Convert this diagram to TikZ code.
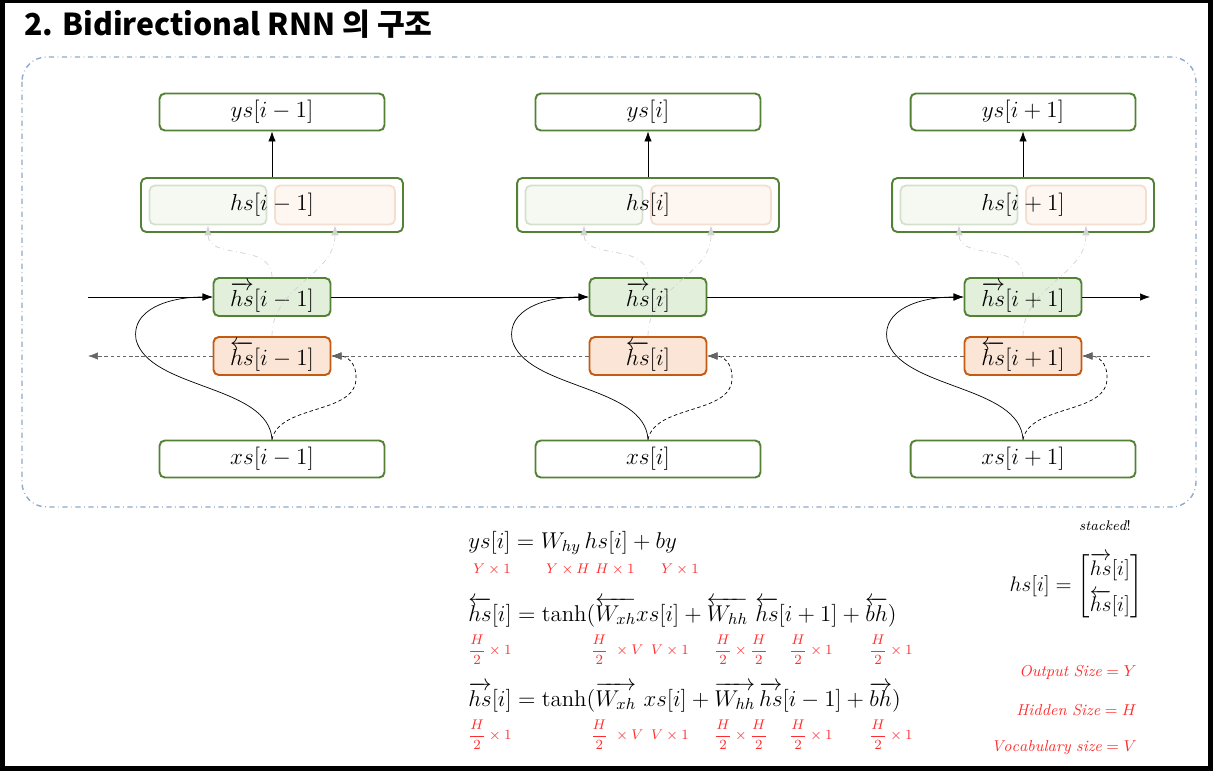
\RequirePackage{fix-cm}
\documentclass[tikz,border=0pt]{standalone}
\usepackage{amsmath}
\usepackage{fontspec}
\newfontfamily\krfont{Noto Sans CJK KR}
\usetikzlibrary{arrows.meta}

\definecolor{boxgreen}{HTML}{548235}
\definecolor{fwdfill}{HTML}{E2EFDA}
\definecolor{bwdfill}{HTML}{FBE5D6}
\definecolor{bwdline}{HTML}{C55A11}
\definecolor{frameblue}{HTML}{8EA9CB}
\definecolor{lblred}{HTML}{FF2E2E}

\begin{document}
\begin{tikzpicture}[x=0.02cm, y=-0.02cm, >={Latex[length=2mm,width=1.5mm]},
    box/.style={draw=boxgreen, line width=1.1pt, rounded corners=3pt, fill=white,
        minimum width=4.5cm, minimum height=0.74cm, inner sep=0pt, font=\fontsize{13.2}{15}\selectfont},
    hsbox/.style={box, fill=none, minimum width=5.24cm, minimum height=1.08cm},
    fwdbox/.style={box, fill=fwdfill, minimum width=2.34cm, minimum height=0.76cm},
    bwdbox/.style={fwdbox, draw=bwdline, fill=bwdfill},
    subL/.style={draw=boxgreen!25, fill=fwdfill!35, line width=1pt, rounded corners=3pt,
        minimum width=2.34cm, minimum height=0.78cm},
    subR/.style={subL, draw=bwdline!20, fill=bwdfill!35, minimum width=2.4cm},
    graylink/.style={gray!35, dash dot, thin},
    lbl/.style={text=lblred, font=\footnotesize, inner sep=0pt},
    eq/.style={anchor=west, inner sep=0pt, font=\fontsize{13}{15}\selectfont}
]

    \useasboundingbox (0,0) rectangle (1213,771);
    \draw[line width=0.1cm] (2.5,0.5) rectangle (1210.5,768.5);
    \draw[frameblue, dash dot, line width=0.8pt, rounded corners=14pt] (22,57) rectangle (1196,507);

    \node[anchor=base west, font=\krfont\bfseries\fontsize{17.2}{19}\selectfont] (title) at (18,35) {2. Bidirectional RNN 의 구조};

    \foreach \n/\x/\idx in {1/272/{i-1}, 2/648/{i}, 3/1023/{i+1}} {
        \node[box] (ys\n) at (\x,112) {$ys[\idx]$};
        \node[subL] (hsL\n) at (\x-64,205) {};
        \node[subR] (hsR\n) at (\x+63,205) {};
        \node[hsbox] (hs\n) at (\x,205) {$hs[\idx]$};
        \node[fwdbox] (fwd\n) at (\x,297) {$\overrightarrow{hs}[\idx]$};
        \node[bwdbox] (bwd\n) at (\x,356) {$\overleftarrow{hs}[\idx]$};
        \node[box] (xs\n) at (\x,459) {$xs[\idx]$};

        \draw[->] (hs\n.north) -- (ys\n.south);
        \draw[graylink,->] (fwd\n.north) .. controls +(0,-35) and +(0,35) .. (hsL\n.south);
        \draw[graylink,->] (bwd\n.north) .. controls +(0,-50) and +(0,50) .. (hsR\n.south);
        \draw[->] (xs\n.north) .. controls +(-3,-55) and +(13,50) .. ++(-136,-100)
            .. controls +(-5,-30) and +(-44,0) .. (fwd\n.west);
        \draw[->, dash pattern=on 2pt off 1.5pt] (xs\n.north) .. controls +(7,-35) and +(-2,35) .. ++(84,-60)
            .. controls +(1,-18) and +(14,0) .. (bwd\n.east);
    }

    \coordinate (fin) at (88,297);
    \coordinate (fout) at (1150,297);
    \coordinate (bin) at (1150,356);
    \coordinate (bout) at (88,356);

    \draw[->] (fin) -- (fwd1.west);
    \draw[->] (fwd1.east) -- (fwd2.west);
    \draw[->] (fwd2.east) -- (fwd3.west);
    \draw[->] (fwd3.east) -- (fout);
    \draw[->, gray!80!black, dash pattern=on 2pt off 1.5pt] (bin) -- (bwd3.east);
    \draw[->, gray!80!black, dash pattern=on 2pt off 1.5pt] (bwd3.west) -- (bwd2.east);
    \draw[->, gray!80!black, dash pattern=on 2pt off 1.5pt] (bwd2.west) -- (bwd1.east);
    \draw[->, gray!80!black, dash pattern=on 2pt off 1.5pt] (bwd1.west) -- (bout);

    \node[eq] (eqy) at (468,543) {$ys[i] = W_{hy}\,hs[i] + by$};
    \node[eq] (eqb) at (468,612) {$\overleftarrow{hs}[i] = \tanh(\overleftarrow{W_{xh}}xs[i] + \overleftarrow{W_{hh}}\ \overleftarrow{hs}[i+1] + \overleftarrow{bh})$};
    \node[eq] (eqf) at (468,697) {$\overrightarrow{hs}[i] = \tanh(\overrightarrow{W_{xh}}\ xs[i] + \overrightarrow{W_{hh}}\,\overrightarrow{hs}[i-1] + \overrightarrow{bh})$};

    \foreach \x/\t in {492/{Y\times1}, 568/{Y\times H}, 615/{H\times1}, 680/{Y\times1}}
        \node[lbl] (dy\x) at (\x,569) {$\t$};
    \foreach \x/\t in {490/{\dfrac{H}{2}\times1}, 617/{\dfrac{H}{2}\ \times V}, 670/{V\times1}, 741/{\dfrac{H}{2}\times\dfrac{H}{2}}, 811/{\dfrac{H}{2}\times1}, 891/{\dfrac{H}{2}\times1}} {
        \node[lbl] (db\x) at (\x,650) {$\t$};
        \node[lbl] (df\x) at (\x,735) {$\t$};
    }

    \node[font=\footnotesize] (stk) at (1105,526) {$\mathit{stacked}!$};
    \node[font=\large] (hsdef) at (1076,586) {$hs[i] = \left[\begin{array}{@{}c@{}}\overrightarrow{hs}[i]\\[4pt]\overleftarrow{hs}[i]\end{array}\right]$};

    \node[lbl, anchor=east, font=\small] (osz) at (1137,672) {$\mathit{Output\ Size} = Y$};
    \node[lbl, anchor=east, font=\small] (hsz) at (1137,710) {$\mathit{Hidden\ Size} = H$};
    \node[lbl, anchor=east, font=\small] (vsz) at (1137,748) {$\mathit{Vocabulary\ size} = V$};

\end{tikzpicture}
\end{document}
